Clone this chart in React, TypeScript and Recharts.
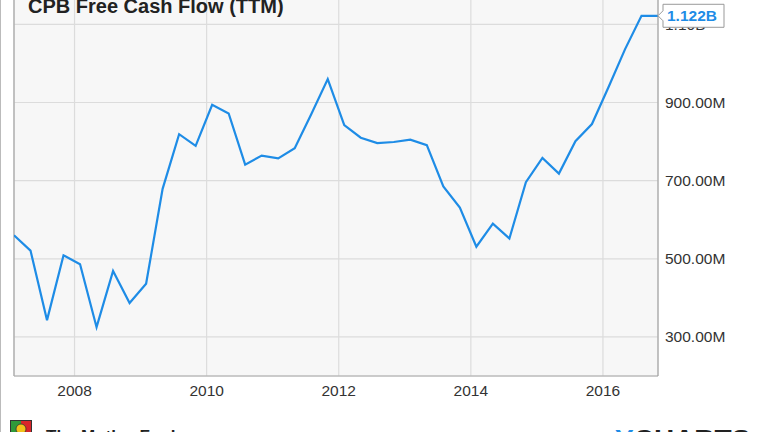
import React from "react";
import {
    LineChart,
    Line,
    XAxis,
    YAxis,
    CartesianGrid,
    ReferenceLine,
    ReferenceDot,
} from "recharts";

// fiscal quarter ends (year-month)
const quarterEnds = [
    "2007-01", "2007-04", "2007-07", "2007-10",
    "2008-01", "2008-04", "2008-07", "2008-10",
    "2009-01", "2009-04", "2009-07", "2009-10",
    "2010-01", "2010-04", "2010-07", "2010-10",
    "2011-01", "2011-04", "2011-07", "2011-10",
    "2012-01", "2012-04", "2012-07", "2012-10",
    "2013-01", "2013-04", "2013-07", "2013-10",
    "2014-01", "2014-04", "2014-07", "2014-10",
    "2015-01", "2015-04", "2015-07", "2015-10",
    "2016-01", "2016-04", "2016-07", "2016-10",
];

// free cash flow, TTM, in millions
const freeCashFlowM = [
    560, 521, 343, 509, 486, 325, 469, 387, 436, 679,
    819, 789, 894, 872, 741, 764, 757, 783, 870, 960,
    842, 810, 796, 799, 805, 791, 685, 631, 531, 590,
    552, 696, 758, 718, 801, 845, 939, 1036, 1122, 1122,
];

const yearTicks = [2008, 2010, 2012, 2014, 2016];
const valueTicks = [300e6, 500e6, 700e6, 900e6, 1100e6];

const LINE_COLOR = "#1e8ce6";
const FONT = "'Liberation Sans', Arial, sans-serif";

const data = quarterEnds.map((d, i) => {
    const [y, m] = d.split("-").map(Number);
    return { t: y + m / 12, value: freeCashFlowM[i] * 1e6 };
});

const first = data[0];
const last = data[data.length - 1];

function formatValue(v: number): string {
    if (Math.abs(v) >= 1e9) return (v / 1e9).toFixed(2) + "B";
    return (v / 1e6).toFixed(2) + "M";
}

function Callout(props: any) {
    const { cx, cy } = props;
    const bx = cx + 5;
    const w = 61;
    const h = 11.5;
    return (
        <g>
            <path
                d={`M${cx},${cy} L${bx},${cy - 5} L${bx},${cy - h} L${bx + w},${cy - h} L${bx + w},${cy + h} L${bx},${cy + h} L${bx},${cy + 5} Z`}
                fill="#fff"
                stroke="#999"
                strokeWidth={1}
            />
            <text
                x={bx + 4}
                y={cy + 5.5}
                fill={LINE_COLOR}
                fontWeight="bold"
                fontSize={15.5}
                fontFamily={FONT}
            >
                {(last.value / 1e9).toFixed(3) + "B"}
            </text>
        </g>
    );
}

export default function App() {
    return (
        <div
            style={{
                position: "fixed",
                left: 0,
                top: 0,
                width: 764,
                height: 432,
                overflow: "hidden",
                background: "#fff",
                fontFamily: FONT,
            }}
        >
            <div style={{ position: "absolute", left: 0, top: -20 }}>
                <LineChart
                    width={764}
                    height={452}
                    data={data}
                    margin={{ top: 10, right: 0, bottom: 26, left: 14 }}
                >
                    <CartesianGrid stroke="#dcdcdc" fill="#f7f7f7" strokeWidth={1.2} />
                    <XAxis
                        dataKey="t"
                        type="number"
                        domain={[first.t, last.t]}
                        ticks={yearTicks}
                        allowDataOverflow
                        height={30}
                        tickLine={false}
                        tickSize={0}
                        tickMargin={9}
                        axisLine={{ stroke: "#aaa" }}
                        tick={{ fill: "#333", fontSize: 15.5, fontFamily: FONT }}
                        tickFormatter={(v: number) => String(v)}
                    />
                    <YAxis
                        orientation="right"
                        width={106}
                        domain={[200e6, 1188e6]}
                        ticks={valueTicks}
                        allowDataOverflow
                        tickLine={false}
                        tickSize={0}
                        tickMargin={7}
                        axisLine={{ stroke: "#999" }}
                        tick={{ fill: "#333", fontSize: 15.5, fontFamily: FONT }}
                        tickFormatter={formatValue}
                    />
                    <ReferenceLine x={first.t} stroke="#999" />
                    <Line
                        type="linear"
                        dataKey="value"
                        stroke={LINE_COLOR}
                        strokeWidth={2.2}
                        dot={false}
                        isAnimationActive={false}
                    />
                    <ReferenceDot
                        x={last.t}
                        y={last.value}
                        ifOverflow="visible"
                        shape={Callout}
                        zIndex={2000}
                    />
                </LineChart>
            </div>
            <svg
                width={764}
                height={432}
                style={{ position: "absolute", left: 0, top: 0, pointerEvents: "none" }}
            >
                <line x1={0.5} y1={0} x2={0.5} y2={432} stroke="#bbb" />
                <text x={28} y={12.5} fontSize={20} fontWeight="bold" fill="#222" fontFamily={FONT}>
                    CPB Free Cash Flow (TTM)
                </text>
                <g>
                    <rect x={11} y={421} width={10} height={12} fill="#2f9a3a" />
                    <rect x={21} y={421} width={10} height={12} fill="#d8262a" />
                    <circle cx={21} cy={429} r={5} fill="#f2c21b" stroke="#333" strokeWidth={0.8} />
                    <rect x={10.5} y={420.5} width={21} height={13} fill="none" stroke="#333" />
                </g>
                <text x={46} y={442} fontSize={17} fontWeight="bold" fill="#222" fontFamily={FONT}>
                    The Motley Fool
                </text>
                <text x={615} y={449} fontSize={28} fontWeight="bold" fill="#222" fontFamily={FONT}>
                    <tspan fill={LINE_COLOR}>Y</tspan>CHARTS
                </text>
            </svg>
        </div>
    );
}
